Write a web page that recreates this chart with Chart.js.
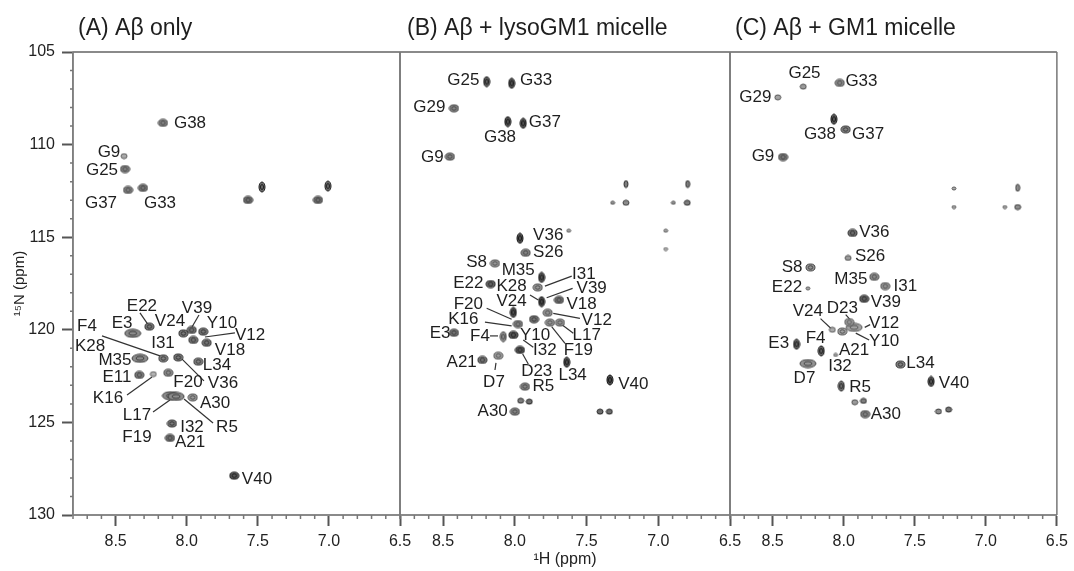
<!DOCTYPE html>
<html>
<head>
<meta charset="utf-8">
<script src="https://cdn.jsdelivr.net/npm/chart.js@4.4.0/dist/chart.umd.min.js"></script>
<style>
  html, body { margin: 0; padding: 0; background: #fff; }
  #wrap { position: relative; width: 1074px; height: 571px; overflow: hidden; }
  .panel { position: absolute; top: 0; height: 571px; }
</style>
</head>
<body>
<div id="wrap">
  <div class="panel" style="left:0;width:420px"><canvas id="panelA"></canvas></div>
  <div class="panel" style="left:380px;width:370px"><canvas id="panelB"></canvas></div>
  <div class="panel" style="left:710px;width:364px"><canvas id="panelC"></canvas></div>
</div>
<script>
// axis ticks (ppm)
const hTicks = [8.5, 8.0, 7.5, 7.0, 6.5];
const nTicks = [105, 110, 115, 120, 125, 130];

// (A) Abeta only - cross peaks: 1H, 15N shift, contour shape, relative level
const aNames = ['G38','G9','G25','G37','G33','','','','','E22','E3','V24','V39','Y10','V12','V18','M35','I31','V36','L34','E11','K16','F20','L17','R5','A30','I32','A21','V40'];
const aH = [8.167,8.441,8.434,8.413,8.308,7.569,7.471,7.077,7.007,8.263,8.380,8.024,7.965,7.884,7.954,7.860,8.329,8.165,8.060,7.919,8.334,8.235,8.130,8.115,8.075,7.958,8.104,8.118,7.666];
const aN = [108.83,110.62,111.32,112.45,112.34,112.99,112.29,112.99,112.24,119.83,120.19,120.19,120.01,120.10,120.55,120.70,121.54,121.54,121.49,121.72,122.44,122.39,122.32,123.56,123.60,123.65,125.06,125.84,127.88];
const aShape = ['o','s','o','o','o','o','v','o','v','o','w','o','o','o','o','o','w','o','o','o','o','s','o','w','w','o','o','o','o'];
const aLevel = [0.5,0.3,0.5,0.5,0.55,0.6,0.7,0.6,0.7,0.6,0.5,0.6,0.6,0.6,0.6,0.6,0.5,0.55,0.6,0.55,0.55,0.25,0.45,0.5,0.5,0.4,0.6,0.6,0.8];

// (A) assignment labels and leader lines
const aTagText = ['G38','G9','G25','G37','G33','E22','E3','F4','V24','V39','Y10','V12','V18','I31','K28','M35','L34','E11','F20','V36','K16','A30','L17','R5','I32','F19','A21','V40'];
const aTagH = [7.977,8.547,8.596,8.603,8.188,8.315,8.455,8.702,8.118,7.928,7.752,7.555,7.696,8.167,8.680,8.505,7.787,8.491,7.991,7.745,8.554,7.801,8.350,7.717,7.963,8.350,7.977,7.506];
const aTagN = [108.83,110.40,111.37,113.15,113.15,118.71,119.63,119.80,119.56,118.82,119.63,120.28,121.09,120.71,120.88,121.63,121.90,122.55,122.82,122.87,123.68,123.95,124.60,125.25,125.25,125.79,126.06,128.06];
const aLeaders = [
  [8.329,119.09,8.266,119.79],
  [7.914,119.20,7.963,119.85],
  [7.661,120.17,7.872,120.39],
  [8.596,120.33,8.188,121.41],
  [8.033,121.58,7.879,122.76],
  [8.420,123.52,8.244,122.55],
  [8.237,124.44,8.118,123.79],
  [7.815,125.03,8.019,123.74]
];

// (B) Abeta + lysoGM1 micelle
const bNames = ['G25','G33','G29','G38','G37','G9','','','','','','','','','','V36','S26','S8','M35','I31','E22','V39','V18','V24','V12','E3','Y10','F20','K16','F4','L17','F19','D23','A21','D7','L34','V40','R5','','','A30','',''];
const bH = [8.196,8.022,8.424,8.049,7.941,8.452,7.225,6.795,7.318,7.225,6.895,6.798,7.624,6.948,6.948,7.964,7.924,8.138,7.813,7.840,8.168,7.813,7.692,8.010,7.771,8.424,7.866,7.978,8.010,8.080,7.755,7.685,7.964,8.226,8.115,7.638,7.337,7.929,7.959,7.899,7.999,7.406,7.341];
const bN = [106.60,106.69,108.04,108.76,108.85,110.65,112.13,112.13,113.14,113.14,113.14,113.14,114.65,114.65,115.64,115.06,115.84,116.41,117.17,117.71,117.53,118.48,118.39,119.06,119.08,120.16,119.43,119.69,120.28,120.37,119.61,119.61,121.09,121.63,121.40,121.75,122.71,123.07,123.83,123.88,124.42,124.42,124.42];
const bShape = ['v','v','o','v','v','o','vs','vs','t','s','t','s','t','t','t','v','o','o','v','o','o','v','o','v','o','o','o','o','o','v','o','o','o','o','o','v','v','o','s','s','o','s','s'];
const bLevel = [0.75,0.85,0.5,0.85,0.85,0.5,0.6,0.6,0.4,0.5,0.4,0.6,0.3,0.3,0.2,0.85,0.5,0.4,0.8,0.4,0.7,0.9,0.6,0.85,0.4,0.6,0.6,0.5,0.8,0.45,0.4,0.4,0.8,0.6,0.35,0.85,0.9,0.5,0.6,0.7,0.5,0.7,0.7];

const bTagText = ['G25','G33','G29','G38','G37','G9','V36','S26','S8','M35','I31','E22','K28','V39','V18','V24','F20','V12','K16','E3','Y10','F4','L17','F19','I32','D23','A21','D7','L34','V40','R5','A30'];
const bTagH = [8.359,7.852,8.596,8.103,7.790,8.575,7.767,7.767,8.266,7.976,7.518,8.324,8.022,7.464,7.534,8.022,8.324,7.429,8.359,8.521,7.859,8.243,7.499,7.557,7.790,7.847,8.370,8.145,7.597,7.174,7.801,8.154];
const bTagN = [106.51,106.51,107.99,109.61,108.82,110.71,114.88,115.84,116.38,116.77,116.99,117.49,117.67,117.76,118.61,118.48,118.61,119.51,119.42,120.19,120.28,120.37,120.28,121.13,121.09,122.26,121.78,122.86,122.44,122.93,123.07,124.42];
const bLeaders = [
  [7.603,117.10,7.790,117.64],
  [7.894,118.12,7.836,118.39],
  [7.597,117.76,7.778,118.27],
  [8.196,118.84,8.022,119.43],
  [7.546,119.38,7.732,119.11],
  [8.208,119.59,8.022,119.79],
  [8.173,120.33,8.117,120.33],
  [7.592,120.19,7.685,119.65],
  [7.650,120.73,7.743,119.83],
  [7.871,120.94,7.941,120.55],
  [7.906,121.85,7.945,121.31],
  [8.138,122.17,8.131,121.79]
];

// (C) Abeta + GM1 micelle
const cNames = ['G25','G33','G29','G38','G37','G9','','','','','','V36','S26','S8','E22','M35','I31','V39','V12','D23','Y10','V24','E3','F4','A21','D7','L34','V40','R5','','','A30','',''];
const cH = [8.285,8.028,8.464,8.069,7.986,8.427,7.224,6.776,7.224,6.866,6.776,7.938,7.969,8.234,8.252,7.785,7.708,7.856,7.927,7.961,8.010,8.080,8.332,8.158,8.057,8.252,7.601,7.385,8.017,7.922,7.861,7.849,7.333,7.262];
const cN = [106.87,106.67,107.45,108.63,109.18,110.67,112.37,112.33,113.37,113.37,113.37,114.77,116.12,116.63,117.76,117.14,117.64,118.33,119.87,119.58,120.09,120.00,120.78,121.14,121.36,121.82,121.87,122.79,123.04,123.91,123.84,124.55,124.41,124.31];
const cShape = ['s','o','s','v','o','o','t','vs','t','t','s','o','s','o','t','o','o','o','w','o','o','s','v','v','t','w','o','v','v','s','s','o','s','s'];
const cLevel = [0.4,0.45,0.35,0.8,0.55,0.55,0.3,0.5,0.3,0.3,0.5,0.65,0.4,0.45,0.3,0.45,0.4,0.7,0.35,0.35,0.35,0.3,0.75,0.75,0.3,0.45,0.55,0.8,0.65,0.4,0.6,0.5,0.5,0.65];

const cTagText = ['G25','G33','G29','G38','G37','G9','V36','S26','S8','E22','M35','I31','V39','D23','V24','V12','Y10','E3','F4','A21','I32','D7','L34','V40','R5','A30'];
const cTagH = [8.276,7.875,8.622,8.167,7.828,8.568,7.785,7.814,8.363,8.399,7.950,7.566,7.703,8.010,8.252,7.715,7.715,8.457,8.198,7.927,8.026,8.276,7.460,7.224,7.885,7.703];
const cTagN = [106.14,106.60,107.45,109.42,109.42,110.64,114.72,116.05,116.60,117.69,117.27,117.64,118.49,118.82,119.00,119.63,120.64,120.73,120.45,121.09,121.95,122.60,121.82,122.91,123.09,124.55];
const cLeaders = [
  [7.986,119.18,7.955,119.45],
  [8.163,119.40,8.080,120.00],
  [7.852,119.87,7.814,119.72],
  [7.915,120.18,7.821,120.55]
];

const FONT = "'Liberation Sans', Arial, Helvetica, sans-serif";
Chart.defaults.font.family = FONT;
Chart.defaults.color = '#222';

// contour glyph sizes in px [w, h]
const SHAPES = { o: [9, 7], s: [6, 5], t: [4, 3], v: [6, 10], vs: [4, 7], w: [16, 8] };

function contour(shape, level) {
  const [w, h] = SHAPES[shape];
  const c = document.createElement('canvas');
  c.width = w + 2;
  c.height = h + 2;
  const g = c.getContext('2d');
  const shade = Math.round(215 - 150 * level);
  const edge = Math.max(shade - 80, 20);
  g.fillStyle = `rgb(${shade},${shade},${shade})`;
  g.strokeStyle = `rgb(${edge},${edge},${edge})`;
  g.lineWidth = 1;
  g.beginPath();
  g.ellipse(c.width / 2, c.height / 2, w / 2, h / 2, 0, 0, Math.PI * 2);
  g.fill();
  g.stroke();
  if (w > 5 && h > 5) {
    g.beginPath();
    g.ellipse(c.width / 2, c.height / 2, w / 4, h / 4, 0, 0, Math.PI * 2);
    g.stroke();
  }
  return c;
}

const decor = {
  id: 'panelDecor',
  afterDatasetsDraw(chart, args, opts) {
    const { ctx, scales: { x, y } } = chart;
    ctx.save();
    ctx.fillStyle = '#1e1e1e';
    ctx.font = `17px ${FONT}`;
    ctx.textAlign = 'center';
    ctx.textBaseline = 'middle';
    opts.tags.forEach((t, i) => {
      ctx.fillText(t, x.getPixelForValue(opts.tagH[i]), y.getPixelForValue(opts.tagN[i]));
    });
    ctx.restore();
  },
  afterDraw(chart, args, opts) {
    const { ctx, chartArea: a, scales: { x, y } } = chart;
    ctx.save();
    // frame
    ctx.strokeStyle = '#8a8a8a';
    ctx.lineWidth = 2;
    ctx.beginPath();
    ctx.moveTo(a.left, a.top);
    ctx.lineTo(a.right, a.top);
    ctx.stroke();
    ctx.strokeStyle = '#777';
    ctx.lineWidth = 1.5;
    ctx.beginPath();
    ctx.moveTo(a.left, a.bottom);
    ctx.lineTo(a.left, a.top);
    ctx.moveTo(a.right, a.top);
    ctx.lineTo(a.right, a.bottom);
    ctx.stroke();
    // minor ticks every 0.1 ppm (1H) and 1 ppm (15N)
    ctx.strokeStyle = '#777';
    ctx.lineWidth = 1.5;
    ctx.beginPath();
    for (let k = 65; k <= 88; k++) {
      if (k % 5 === 0) continue;
      const px = x.getPixelForValue(k / 10);
      ctx.moveTo(px, a.bottom);
      ctx.lineTo(px, a.bottom + 4);
    }
    if (opts.yAxis) {
      for (let v = 106; v < 130; v++) {
        if (v % 5 === 0) continue;
        const py = y.getPixelForValue(v);
        ctx.moveTo(a.left - 3, py);
        ctx.lineTo(a.left, py);
      }
    }
    ctx.stroke();
    // panel heading
    ctx.fillStyle = '#1e1e1e';
    ctx.font = `23px ${FONT}`;
    ctx.textAlign = 'left';
    ctx.textBaseline = 'middle';
    ctx.fillText(opts.title, a.left + opts.titleDx, 29);
    ctx.restore();
  }
};

function makePanel(id, cfg) {
  const peaks = {
    data: cfg.H.map((h, i) => ({ x: h, y: cfg.N[i] })),
    pointStyle: cfg.shape.map((s, i) => contour(s, cfg.level[i])),
    pointRadius: 5
  };
  const leaders = cfg.leaders.map(l => ({
    data: [{ x: l[0], y: l[1] }, { x: l[2], y: l[3] }],
    showLine: true,
    borderColor: '#333',
    borderWidth: 1.2,
    pointRadius: 0
  }));
  return new Chart(document.getElementById(id), {
    type: 'scatter',
    data: { datasets: [peaks, ...leaders] },
    options: {
      responsive: true,
      maintainAspectRatio: false,
      animation: false,
      events: [],
      layout: { padding: cfg.padding },
      plugins: {
        legend: { display: false },
        tooltip: { enabled: false },
        panelDecor: {
          tags: cfg.tags, tagH: cfg.tagH, tagN: cfg.tagN,
          title: cfg.title, titleDx: cfg.titleDx, yAxis: cfg.yAxis
        }
      },
      scales: {
        x: {
          type: 'linear', reverse: true, min: 6.5, max: 8.8,
          afterBuildTicks: s => { s.ticks = hTicks.map(v => ({ value: v })); },
          afterFit: s => { s.height = 56; },
          ticks: {
            callback: v => v.toFixed(1),
            font: { size: 16 }, color: '#222', padding: 6,
            maxRotation: 0, autoSkip: false
          },
          grid: { drawOnChartArea: false, tickLength: 11, tickWidth: 2, tickColor: '#555' },
          border: { color: '#8a8a8a', width: 2 },
          title: {
            display: !!cfg.xTitle, text: cfg.xTitle || '',
            font: { size: 16 }, color: '#222', padding: { top: 0, bottom: 2 }
          }
        },
        y: {
          type: 'linear', reverse: true, min: 105, max: 130,
          display: cfg.yAxis,
          afterBuildTicks: s => { s.ticks = nTicks.map(v => ({ value: v })); },
          afterFit: s => { s.width = cfg.yAxis ? 73 : 0; },
          ticks: { font: { size: 16 }, color: '#222', padding: 7 },
          grid: { drawOnChartArea: false, tickLength: 11, tickWidth: 2, tickColor: '#555' },
          border: { color: '#999', width: 1.5 },
          title: {
            display: cfg.yAxis, text: '\u00b9\u2075N (ppm)',
            font: { size: 15 }, color: '#222', padding: { top: 11, bottom: 0 }
          }
        }
      }
    },
    plugins: [decor]
  });
}

makePanel('panelA', {
  H: aH, N: aN, shape: aShape, level: aLevel,
  tags: aTagText, tagH: aTagH, tagN: aTagN, leaders: aLeaders,
  title: '(A) A\u03b2 only', titleDx: 5, yAxis: true,
  padding: { top: 52, right: 20, left: 0, bottom: 0 }
});
makePanel('panelB', {
  H: bH, N: bN, shape: bShape, level: bLevel,
  tags: bTagText, tagH: bTagH, tagN: bTagN, leaders: bLeaders,
  title: '(B) A\u03b2 + lysoGM1 micelle', titleDx: 7, yAxis: false,
  xTitle: '\u00b9H (ppm)',
  padding: { top: 52, right: 20, left: 20, bottom: 0 }
});
makePanel('panelC', {
  H: cH, N: cN, shape: cShape, level: cLevel,
  tags: cTagText, tagH: cTagH, tagN: cTagN, leaders: cLeaders,
  title: '(C) A\u03b2 + GM1 micelle', titleDx: 5, yAxis: false,
  padding: { top: 52, right: 16, left: 20, bottom: 0 }
});
</script>
</body>
</html>
